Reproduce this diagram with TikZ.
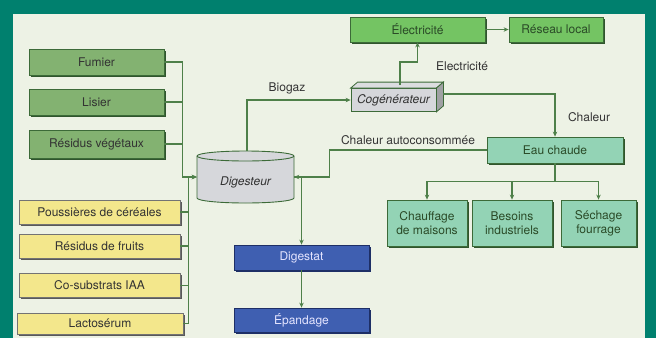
\documentclass[tikz,border=0pt]{standalone}
\usepackage{fontspec}
\setmainfont{TeX Gyre Heros}
\usetikzlibrary{arrows.meta,shadows}

\definecolor{framegreen}{HTML}{00806E}
\definecolor{panelgreen}{HTML}{EDF2E5}
\definecolor{mixgreen}{HTML}{83B271}
\definecolor{elecgreen}{HTML}{74C463}
\definecolor{heatmint}{HTML}{93D3B5}
\definecolor{cosubyellow}{HTML}{F3E78C}
\definecolor{digestblue}{HTML}{3F5FB1}
\definecolor{navyedge}{HTML}{1E2F66}
\definecolor{tankgray}{HTML}{D6D7DB}
\definecolor{edgegreen}{HTML}{3C6A38}
\definecolor{pipegreen}{HTML}{4E8049}
\definecolor{inkgray}{HTML}{333333}

\tikzset{
	flowbox/.style={draw=edgegreen, line width=0.8pt, minimum height=25pt, inner sep=2pt,
		font=\fontsize{12}{14}\selectfont, text=inkgray,
		drop shadow={shadow xshift=1.6pt, shadow yshift=-1.6pt, opacity=1, fill=#1}},
	mixbox/.style={flowbox=edgegreen!80!black, fill=mixgreen},
	cosubbox/.style={flowbox=black!65, fill=cosubyellow, draw=black!55},
	elecbox/.style={flowbox=edgegreen!80!black, fill=elecgreen, text=edgegreen!70!black},
	heatbox/.style={flowbox=edgegreen!80!black, fill=heatmint, text=edgegreen!70!black},
	digbox/.style={flowbox=navyedge, fill=digestblue, draw=navyedge, text=white!90!blue},
	cogbox/.style={draw=edgegreen, line width=0.8pt, fill=tankgray, inner sep=1pt,
		font=\fontsize{12}{14}\selectfont\itshape, text=inkgray},
	pipe/.style={draw=pipegreen, line width=1.4pt},
	lbl/.style={font=\fontsize{12}{14}\selectfont, text=inkgray}
}

\begin{document}
\begin{tikzpicture}[x=1pt,y=-1pt,>={Stealth[length=5pt,width=4.5pt]}]

\def\FRAME{framegreen}
\def\PANEL{panelgreen}
	\fill[\FRAME] (0,0) rectangle (656,338);
	\fill[\PANEL] (13,14) rectangle (645,338);
	\useasboundingbox (0,0) rectangle (656,338);

	\node[mixbox, minimum width=135pt, minimum height=26pt] (fumier) at (96.5,62) {Fumier};
	\node[mixbox, minimum width=135pt, minimum height=26pt] (lisier) at (96.5,102) {Lisier};
	\node[mixbox, minimum width=135pt, minimum height=28pt] (vegetaux) at (96.5,144) {Résidus végétaux};

	\node[cosubbox, minimum width=161pt, minimum height=24pt] (poussieres) at (99.5,212) {Poussières de céréales};
	\node[cosubbox, minimum width=161pt, minimum height=24pt] (fruits) at (99.5,246) {Résidus de fruits};
	\node[cosubbox, minimum width=161pt, minimum height=24pt] (iaa) at (99.5,285.5) {Co-substrats IAA};
	\node[cosubbox, minimum width=166pt, minimum height=21pt] (lacto) at (100,323.5) {Lactosérum};

	\node[minimum width=97pt, minimum height=52pt, inner sep=0pt] (dig) at (245.5,177) {};
	\filldraw[fill=tankgray, draw=edgegreen, line width=0.9pt]
		(197,156) -- (197,198) arc[start angle=180, end angle=360, x radius=48.5pt, y radius=5pt]
		-- (294,156) arc[start angle=0, end angle=180, x radius=48.5pt, y radius=5pt] -- cycle;
	\draw[edgegreen, line width=0.9pt] (197,156) arc[start angle=180, end angle=360, x radius=48.5pt, y radius=5pt];
	\node[cogbox, draw=none, fill=none] (diglabel) at (245.5,182) {Digesteur};

	\node[digbox, minimum width=135pt, minimum height=25pt] (digestat) at (301.5,257.5) {Digestat};
	\node[digbox, minimum width=135pt, minimum height=24pt] (epandage) at (301.5,320) {Épandage};

	\node[cogbox, minimum width=85pt, minimum height=23pt] (cog) at (393.5,100) {Cogénérateur};
	\filldraw[fill=tankgray!85!white, draw=edgegreen, line width=0.8pt]
		(cog.north west) -- ++(7pt,6pt) -- ([xshift=7pt,yshift=6pt]cog.north east) -- (cog.north east) -- cycle;
	\filldraw[fill=tankgray!75!black, draw=edgegreen, line width=0.8pt]
		(cog.north east) -- ++(7pt,6pt) -- ([xshift=7pt,yshift=6pt]cog.south east) -- (cog.south east) -- cycle;

	\node[elecbox, minimum width=135pt] (elec) at (417.5,29.5) {Électricité};
	\node[elecbox, minimum width=94pt] (reseau) at (556,29.5) {Réseau local};

	\node[heatbox, minimum width=136pt, minimum height=26pt] (eau) at (555,150) {Eau chaude};
	\node[heatbox, minimum width=80pt, minimum height=46pt, align=center] (chauffage) at (427,223) {Chauffage\\de maisons};
	\node[heatbox, minimum width=80pt, minimum height=46pt, align=center] (besoins) at (512,223) {Besoins\\industriels};
	\node[heatbox, minimum width=75pt, minimum height=46pt, align=center] (sechage) at (598.5,223) {Séchage\\fourrage};

	\draw[pipe,->] (fumier.east) -- ++(18,0) |- (dig.west);
	\draw[pipe] (lisier.east) -- ++(18,0);
	\draw[pipe] (vegetaux.east) -- ++(18,0);
	\draw[pipe,->] (lacto.east) -- ++(5,0) |- (dig.west);
	\draw[pipe] (poussieres.east) -- ++(8,0);
	\draw[pipe] (fruits.east) -- ++(8,0);
	\draw[pipe] (iaa.east) -- ++(8,0);

	\draw[pipe,->] ([xshift=1.5pt]dig.north) |- (cog.west);
	\node[lbl] (biogaz) at (287,88) {Biogaz};

	\draw[pipe,->] ([xshift=6.5pt,yshift=3pt]cog.north) -- ++(0,-23) -| (elec.south);
	\node[lbl] (elecflow) at (462,66) {Electricité};
	\draw[pipe,->] (elec) -- (reseau);

	\draw[pipe,->] ([xshift=7pt,yshift=6pt]cog.east) -| (eau.north);
	\node[lbl] (chaleur) at (589,117) {Chaleur};

	\draw[pipe,->] (eau.west) -- ++(-157,0) |- (dig.east);
	\node[lbl] (autoconso) at (408,140) {Chaleur autoconsommée};

	\draw[pipe,->] (dig.east) -| (digestat.north);
	\draw[pipe,->] (digestat) -- (epandage);

	\draw[pipe,->] (eau.south) -- ++(0,18) -| (chauffage.north);
	\draw[pipe,->] (eau.south) -- ++(0,18) -| (besoins.north);
	\draw[pipe,->] (eau.south) -- ++(0,18) -| (sechage.north);

\end{tikzpicture}
\end{document}
